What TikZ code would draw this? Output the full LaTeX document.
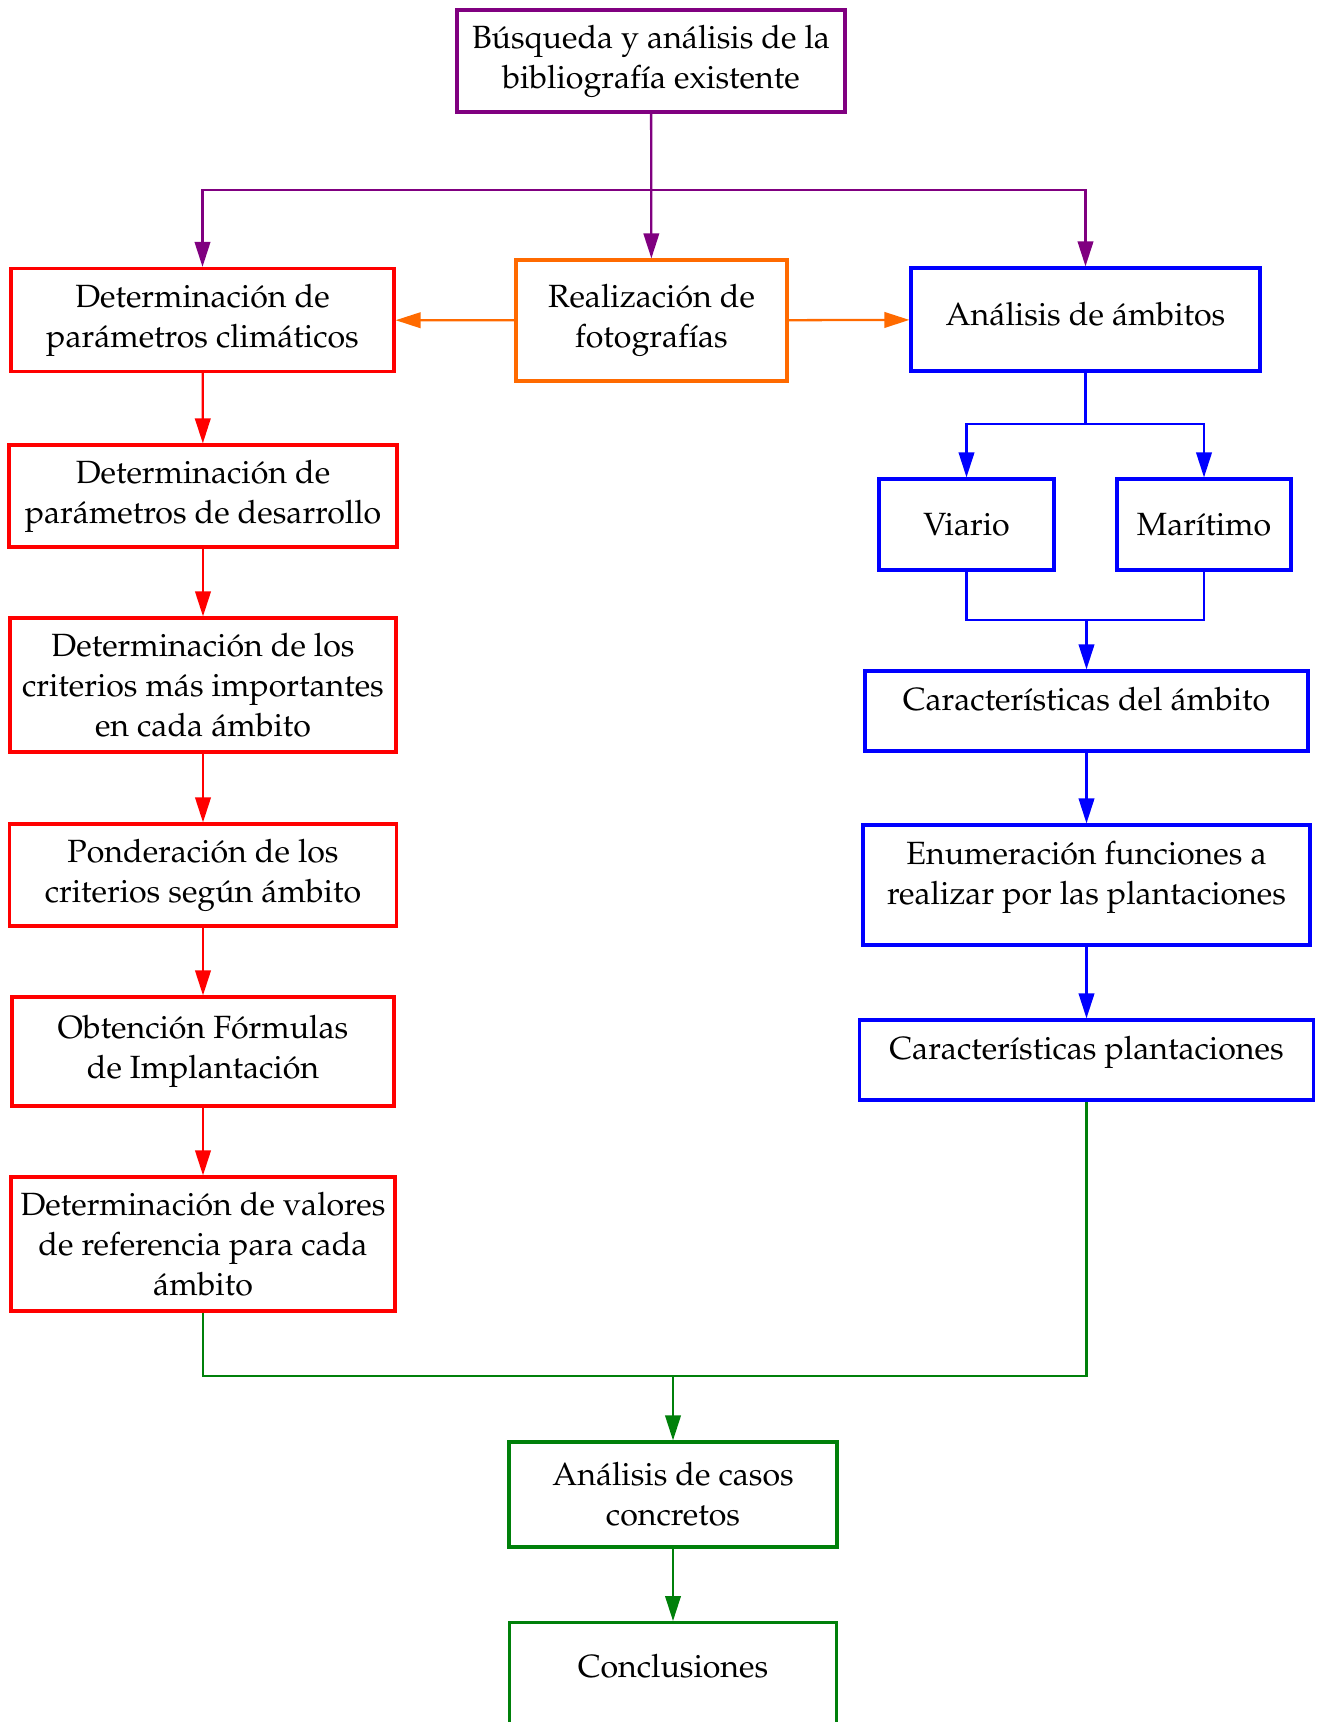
\documentclass[tikz,border=0pt]{standalone}
\usepackage[T1]{fontenc}
\usepackage{mathpazo}
\usetikzlibrary{arrows.meta}
\definecolor{morado}{HTML}{800080}
\definecolor{naranja}{HTML}{FF6A00}
\definecolor{rojo}{HTML}{FF0000}
\definecolor{azul}{HTML}{0000FF}
\definecolor{verde}{HTML}{00800A}

\begin{document}
\begin{tikzpicture}[
            box/.style={rectangle, draw, line width=1.8pt, align=center, inner sep=2pt,
                font=\fontsize{18.3}{22.7}\selectfont},
            link/.style={line width=1.3pt},
            >={Triangle[length=0.5cm,width=0.31cm]},
            ]
            \useasboundingbox (0,0) rectangle (26.44,-34.44);

            \node[box, morado, text=black, minimum width=7.76cm, minimum height=2.04cm] (busq) at (13.02,-1.22) {Búsqueda y análisis de la\\bibliografía existente};

            \node[box, rojo, text=black, minimum width=7.66cm, minimum height=2.06cm] (clim) at (4.05,-6.4) {Determinación de\\parámetros climáticos};
            \node[box, naranja, text=black, minimum width=5.42cm, minimum height=2.42cm] (fotos) at (13.03,-6.41) {Realización de\\fotografías};
            \node[box, azul, text=black, minimum width=6.98cm, minimum height=2.06cm, text depth=0.22cm] (ambitos) at (21.71,-6.39) {Análisis de ámbitos};

            \node[box, rojo, text=black, minimum width=7.76cm, minimum height=2.04cm] (desarrollo) at (4.06,-9.92) {Determinación de\\parámetros de desarrollo};
            \node[box, rojo, text=black, minimum width=7.72cm, minimum height=2.68cm] (criterios) at (4.06,-13.7) {Determinación de los\\criterios más importantes\\en cada ámbito};
            \node[box, rojo, text=black, minimum width=7.74cm, minimum height=2.04cm] (ponder) at (4.06,-17.5) {Ponderación de los\\criterios según ámbito};
            \node[box, rojo, text=black, minimum width=7.64cm, minimum height=2.18cm] (obten) at (4.06,-21.03) {Obtención Fórmulas\\de Implantación};
            \node[box, rojo, text=black, minimum width=7.68cm, minimum height=2.68cm] (valores) at (4.06,-24.88) {Determinación de valores\\de referencia para cada\\ámbito};

            \node[box, azul, text=black, minimum width=3.5cm, minimum height=1.82cm] (viario) at (19.33,-10.49) {Viario};
            \node[box, azul, text=black, minimum width=3.48cm, minimum height=1.82cm] (maritimo) at (24.08,-10.49) {Marítimo};
            \node[box, azul, text=black, minimum width=8.86cm, minimum height=1.6cm, text depth=0.5cm] (caramb) at (21.73,-14.22) {Características del ámbito};
            \node[box, azul, text=black, minimum width=8.94cm, minimum height=2.4cm, text depth=0.5cm] (enum) at (21.73,-17.7) {Enumeración funciones a\\realizar por las plantaciones};
            \node[box, azul, text=black, minimum width=9.08cm, minimum height=1.6cm, text depth=0.5cm] (carplan) at (21.73,-21.2) {Características plantaciones};

            \node[box, verde, text=black, minimum width=6.56cm, minimum height=2.1cm] (casos) at (13.46,-29.89) {Análisis de casos\\concretos};
            \node[box, verde, text=black, minimum width=6.54cm, anchor=north, inner ysep=0.64cm, text depth=2cm] (concl) at (13.46,-32.42) {Conclusiones};

            \coordinate (top split) at (13.02,-3.8);
            \coordinate (amb split) at (21.71,-8.48);
            \coordinate (vm join) at (21.73,-12.4);
            \coordinate (green join) at (13.46,-27.52);

            \draw[link, morado, ->] (busq) -- (fotos);
            \draw[link, morado, ->] (top split) -| (clim.north);
            \draw[link, morado, ->] (top split) -| (ambitos.north);

            \draw[link, naranja, ->] (fotos) -- (clim);
            \draw[link, naranja, ->] (fotos) -- (ambitos);

            \draw[link, rojo, ->] (clim) -- (desarrollo);
            \draw[link, rojo, ->] (desarrollo) -- (criterios);
            \draw[link, rojo, ->] (criterios) -- (ponder);
            \draw[link, rojo, ->] (ponder) -- (obten);
            \draw[link, rojo, ->] (obten) -- (valores);

            \draw[link, azul] (ambitos) -- (amb split);
            \draw[link, azul, ->] (amb split) -| (viario);
            \draw[link, azul, ->] (amb split) -| (maritimo);
            \draw[link, azul] (viario) |- (vm join) -| (maritimo);
            \draw[link, azul, ->] (vm join) -- (caramb);
            \draw[link, azul, ->] (caramb) -- (enum);
            \draw[link, azul, ->] (enum) -- (carplan);

            \draw[link, verde] (valores) |- (green join) -| (carplan);
            \draw[link, verde, ->] (green join) -- (casos);
            \draw[link, verde, ->] (casos) -- (concl);
        \end{tikzpicture}
\end{document}
